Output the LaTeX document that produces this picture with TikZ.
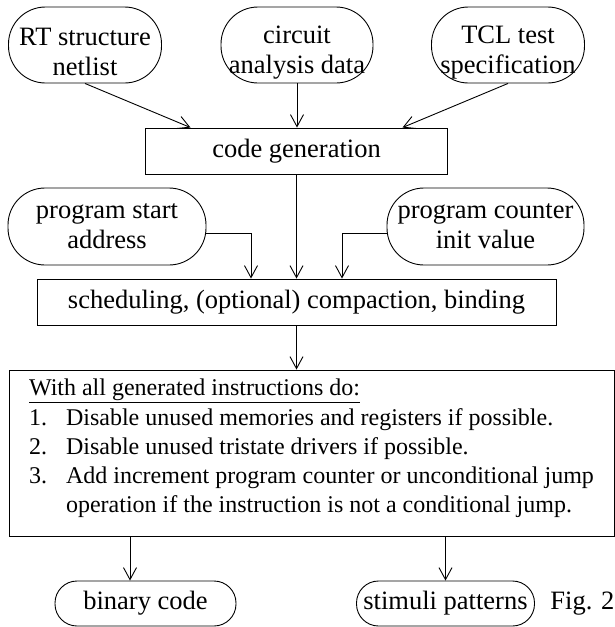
\documentclass[tikz,border=0pt]{standalone}
\usepackage{fontspec}
\setmainfont{Liberation Serif}
\usepackage{tikz}
\usetikzlibrary{positioning, arrows.meta}
\tikzset{
	every node/.append style={
		font={\fontsize{26.5}{30}\selectfont},
	},
	procbox/.append style={
		draw,
		align = center,
		minimum height=46pt,
	},
	databox/.append style={
		draw,
		align = center,
		inner sep=0pt,
		minimum height=76pt,
		rounded corners=37pt,
	},
	leafbox/.append style={
		databox,
		minimum height=45pt,
		rounded corners=22pt,
	},
	listbox/.append style={
		draw,
		align = left,
		inner sep=0pt,
		font={\fontsize{24}{29}\selectfont},
	},
	>={Straight Barb[length=12pt,width=13pt]},
}
\newcommand{\numitem}[1]{\makebox[37pt][l]{#1}}
% pushes the two lines of the input ovals a bit down
\newcommand{\lowstrut}{\rule{0pt}{32pt}}

\begin{document}
\begin{tikzpicture}[x=1pt, y=-1pt, line width=0.9pt]
\useasboundingbox (0,0) rectangle (615,627);

% inputs of the code generator
\node(rt)[databox, minimum width=153pt] at (85,45) {\lowstrut RT structure\\netlist};
\node(cad)[databox, minimum width=152pt] at (297,45) {\lowstrut circuit\\analysis data};
\node(tcl)[databox, minimum width=153pt] at (508,45) {\lowstrut TCL test\\specification};

\node(codegen)[procbox, minimum width=302pt] at (296.5,151) {code generation};

\node(psa)[databox, minimum width=198pt, minimum height=77pt] at (107,226.5) {program start\\address};
\node(pci)[databox, minimum width=197pt, minimum height=77pt] at (485.5,226.5) {program counter\\init value};

\node(sched)[procbox, minimum width=519pt] at (296.5,302) {scheduling, (optional) compaction, binding};

% post-processing of every instruction
\node(todo)[listbox, minimum width=605pt, minimum height=166pt] at (311.5,453) {%
	\underline{With all generated instructions do:}\\[1pt]
	\numitem{1.}Disable unused memories and registers if possible.\\
	\numitem{2.}Disable unused tristate drivers if possible.\\
	\numitem{3.}Add increment program counter or unconditional jump\\
	\hspace*{37pt}operation if the instruction is not a conditional jump.\rule[-14pt]{0pt}{1pt}};

\node(bin)[leafbox, minimum width=181pt] at (145.5,603.5) {binary code};
\node(stim)[leafbox, minimum width=178pt] at (445.5,603.5) {stimuli patterns};
\node(fig)[inner sep=0pt, base right=15pt of stim] {Fig. 2};

\coordinate(binin) at ([xshift=-15.5pt]bin.north);

\draw[->] (rt.south) -- ([xshift=-106pt]codegen.north);
\draw[->] (cad.south) -- (cad.south |- codegen.north);
\draw[->] (tcl.south) -- ([xshift=106pt]codegen.north);
\draw[->] ([yshift=-7pt]psa.east) -| ([xshift=-45.5pt]sched.north);
\draw[->] (codegen.south) -- (codegen.south |- sched.north);
\draw[->] ([yshift=-7pt]pci.west) -| ([xshift=45.5pt]sched.north);
\draw[->] (sched.south) -- (sched.south |- todo.north);
\draw[->] (todo.south -| binin) -- (binin);
\draw[->] (todo.south -| stim.north) -- (stim.north);

\end{tikzpicture}
\end{document}
